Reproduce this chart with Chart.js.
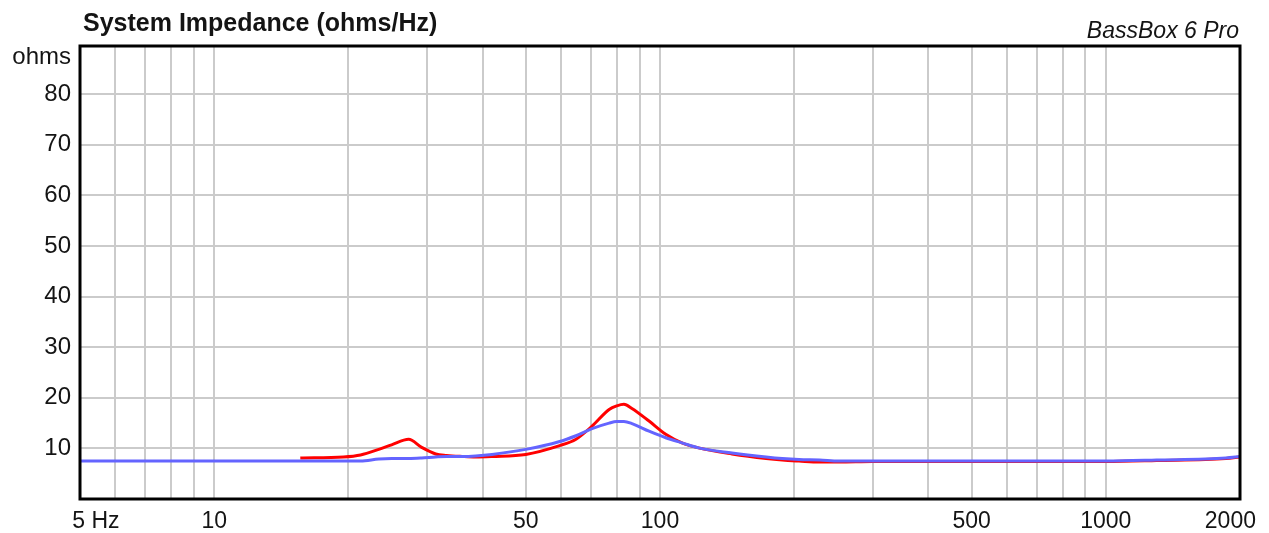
<!DOCTYPE html>
<html>
<head>
<meta charset="utf-8">
<title>System Impedance</title>
<script src="https://cdn.jsdelivr.net/npm/chart.js@4/dist/chart.umd.min.js"></script>
<style>
  html, body { margin: 0; padding: 0; background: #fff; }
  #wrap { width: 1269px; height: 533px; position: relative; }
</style>
</head>
<body>
<div id="wrap"><canvas id="impChart"></canvas></div>
<script>
// Frequency points (Hz) shared by both curves
const freqHz = [5, 10, 15.6, 19.5, 21.3, 23.4, 25, 27.3, 29.2, 31.4, 33.2, 36, 38.6, 42, 50,
  59.3, 64.8, 70.4, 76.9, 80, 83, 86.5, 94.5, 103, 112, 122, 145, 173, 188, 205, 228, 252,
  300, 500, 1000, 1300, 1860, 2000];

// Impedance in ohms
const redOhms = [null, null, 8.1, 8.3, 8.7, 9.8, 10.7, 11.8, 10.2, 8.9, 8.6, 8.4, 8.3, 8.4, 8.8,
  10.5, 11.8, 14.4, 17.7, 18.4, 18.7, 17.9, 15.4, 12.8, 11.1, 10.1, 8.9, 8.0, 7.7, 7.5, 7.3, 7.3,
  7.4, 7.4, 7.4, 7.6, 8.0, 8.3];
const blueOhms = [7.5, 7.5, 7.5, 7.5, 7.5, 7.9, 8.0, 8.0, 8.1, 8.3, 8.4, 8.4, 8.5, 8.8, 9.8,
  11.3, 12.5, 13.9, 15.0, 15.3, 15.3, 14.9, 13.4, 12.1, 11.1, 10.1, 9.1, 8.3, 8.0, 7.8, 7.7, 7.5,
  7.5, 7.5, 7.5, 7.7, 8.1, 8.4];

// Grid lines and labels
const xGrid = [5, 6, 7, 8, 9, 10, 20, 30, 40, 50, 60, 70, 80, 90, 100,
  200, 300, 400, 500, 600, 700, 800, 900, 1000, 2000];
const xLabelValues = [5, 10, 50, 100, 500, 1000, 2000];
const xLabelTexts = ['     5 Hz', '10', '50', '100', '500', '1000', '2000   '];
const yGrid = [0, 5, 10, 15, 20, 25, 30, 35, 40, 45, 50, 55, 60, 65, 70, 75, 80, 85];
const yLabelValues = [10, 20, 30, 40, 50, 60, 70, 80];

const toPoints = (ys) => freqHz.map((f, i) => ({ x: f, y: ys[i] }));

const FONT = 'Arial, "Liberation Sans", sans-serif';
const TEXT = '#141414';

// Title, brand text, unit label and the black frame
const decor = {
  id: 'decor',
  afterDatasetsDraw(chart) {
    const { ctx, chartArea: a } = chart;
    ctx.save();
    ctx.strokeStyle = '#000';
    ctx.lineWidth = 3;
    ctx.strokeRect(a.left, a.top, a.right - a.left, a.bottom - a.top);
    ctx.restore();
  },
  afterDraw(chart) {
    const { ctx, chartArea: a } = chart;
    ctx.save();
    ctx.fillStyle = TEXT;
    ctx.textBaseline = 'alphabetic';
    ctx.font = 'bold 25px ' + FONT;
    ctx.textAlign = 'left';
    ctx.fillText('System Impedance (ohms/Hz)', 83, 31);
    ctx.font = 'italic 23px ' + FONT;
    ctx.textAlign = 'right';
    ctx.fillText('BassBox 6 Pro', a.right - 1, 38);
    ctx.font = '24px ' + FONT;
    ctx.textBaseline = 'middle';
    ctx.fillText('ohms', a.left - 9, 57);
    ctx.restore();
  }
};

new Chart(document.getElementById('impChart'), {
  type: 'line',
  data: {
    datasets: [
      {
        label: 'Reference',
        data: toPoints(blueOhms),
        borderColor: 'rgb(100, 100, 255)',
        borderWidth: 3,
        pointRadius: 0,
        cubicInterpolationMode: 'monotone'
      },
      {
        label: 'System',
        data: toPoints(redOhms),
        borderColor: 'rgb(255, 0, 0)',
        borderWidth: 3,
        pointRadius: 0,
        cubicInterpolationMode: 'monotone',
        spanGaps: false
      }
    ]
  },
  options: {
    responsive: true,
    maintainAspectRatio: false,
    animation: false,
    layout: { padding: { top: 46, right: 29, left: 0, bottom: 0 } },
    plugins: {
      legend: { display: false },
      title: { display: false },
      tooltip: { enabled: false }
    },
    scales: {
      x: {
        type: 'logarithmic',
        min: 5,
        max: 2000,
        afterBuildTicks: (scale) => { scale.ticks = xGrid.map(v => ({ value: v })); },
        afterFit: (scale) => { scale.height = 34; scale.paddingLeft = 0; scale.paddingRight = 0; },
        grid: { color: '#cbcbcb', lineWidth: 2, drawTicks: false },
        border: { display: false },
        ticks: {
          autoSkip: false,
          maxRotation: 0,
          padding: 9,
          color: TEXT,
          font: { family: FONT, size: 23 },
          callback: (v) => {
            const i = xLabelValues.indexOf(v);
            return i >= 0 ? xLabelTexts[i] : '';
          }
        }
      },
      y: {
        min: 0,
        max: 89.5,
        afterBuildTicks: (scale) => { scale.ticks = yGrid.map(v => ({ value: v })); },
        afterFit: (scale) => { scale.width = 80; },
        grid: { color: '#cbcbcb', lineWidth: 2, drawTicks: false },
        border: { display: false },
        ticks: {
          padding: 9,
          color: TEXT,
          font: { family: FONT, size: 24 },
          callback: (v) => yLabelValues.includes(v) ? String(v) : ''
        }
      }
    }
  },
  plugins: [decor]
});
</script>
</body>
</html>
